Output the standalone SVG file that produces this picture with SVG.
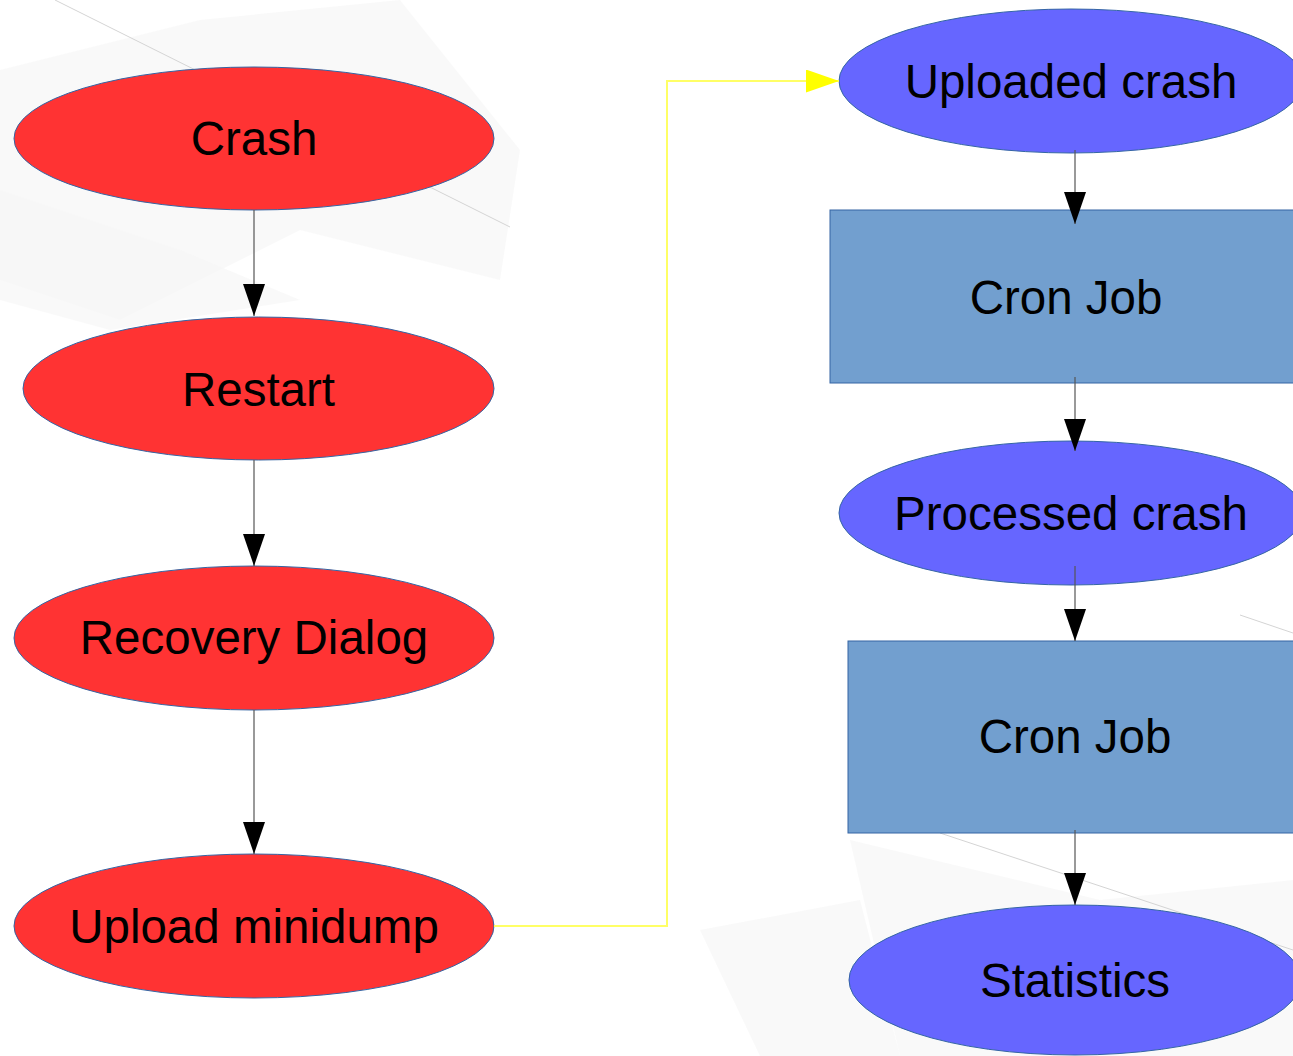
<svg xmlns="http://www.w3.org/2000/svg" width="1293" height="1056" viewBox="0 0 1293 1056">
  <style>
    .red { fill: #ff3333; stroke: #3465a4; stroke-width: 1; }
    .blue { fill: #6666ff; stroke: #3465a4; stroke-width: 1; }
    .box { fill: #729fcf; stroke: #3465a4; stroke-width: 1; }
    .lbl { font-family: "Liberation Sans", Arial, sans-serif; font-size: 47.5px; fill: #000; text-anchor: middle; }
    .edge { fill: none; stroke: #555; stroke-width: 1.2; }
    .yedge { fill: none; stroke: #ffff66; stroke-width: 2; }
    .bg { fill: #f7f7f7; opacity: 0.7; }
    .bgl { stroke: #d4d4d4; stroke-width: 1; fill: none; }
  </style>
  <defs>
    <marker id="ah" markerWidth="32" markerHeight="22" refX="32" refY="11" orient="auto" markerUnits="userSpaceOnUse">
      <path d="M0,0 L32,11 L0,22 Z" fill="#000"/>
    </marker>
    <marker id="ahy" markerWidth="33" markerHeight="23" refX="33" refY="11.5" orient="auto" markerUnits="userSpaceOnUse">
      <path d="M0,0 L33,11.5 L0,23 Z" fill="#ffff00"/>
    </marker>
  </defs>
  <rect width="1293" height="1056" fill="#ffffff"/>
  <g id="background">
    <polygon class="bg" points="0,70 200,20 400,0 520,150 500,280 300,230 120,320 0,280"/>
    <polygon class="bg" points="0,190 180,250 300,300 110,330 0,300"/>
    <polygon class="bg" points="700,930 860,900 900,1056 760,1056"/>
    <polygon class="bg" points="850,840 1100,900 1293,880 1293,1056 900,1056"/>
    <line class="bgl" x1="55" y1="0" x2="510" y2="227"/>
    <line class="bgl" x1="940" y1="833" x2="1293" y2="950"/>
    <line class="bgl" x1="1240" y1="615" x2="1293" y2="633"/>
  </g>
  <g id="node-crash">
    <ellipse class="red" cx="254" cy="138.5" rx="240" ry="71.5"/>
    <text class="lbl" x="254" y="155">Crash</text>
  </g>
  <g id="node-restart">
    <ellipse class="red" cx="258.5" cy="388.5" rx="235.5" ry="71.5"/>
    <text class="lbl" x="258.5" y="406">Restart</text>
  </g>
  <g id="node-recovery">
    <ellipse class="red" cx="254" cy="638" rx="240" ry="72"/>
    <text class="lbl" x="254" y="654">Recovery Dialog</text>
  </g>
  <g id="node-upload">
    <ellipse class="red" cx="254" cy="926" rx="240" ry="72"/>
    <text class="lbl" x="254" y="943">Upload minidump</text>
  </g>
  <g id="node-uploaded">
    <ellipse class="blue" cx="1071" cy="81" rx="232" ry="72"/>
    <text class="lbl" x="1071" y="98">Uploaded crash</text>
  </g>
  <g id="node-cron1">
    <rect class="box" x="830" y="210" width="472" height="173"/>
    <text class="lbl" x="1066" y="314">Cron Job</text>
  </g>
  <g id="node-processed">
    <ellipse class="blue" cx="1071" cy="513" rx="232" ry="72"/>
    <text class="lbl" x="1071" y="530">Processed crash</text>
  </g>
  <g id="node-cron2">
    <rect class="box" x="848" y="641" width="460" height="192"/>
    <text class="lbl" x="1075" y="753">Cron Job</text>
  </g>
  <g id="node-statistics">
    <ellipse class="blue" cx="1075" cy="980" rx="226" ry="75"/>
    <text class="lbl" x="1075" y="997">Statistics</text>
  </g>
  <g id="connectors">
    <line class="edge" x1="254" y1="210" x2="254" y2="316" marker-end="url(#ah)"/>
    <line class="edge" x1="254" y1="460" x2="254" y2="566" marker-end="url(#ah)"/>
    <line class="edge" x1="254" y1="710" x2="254" y2="854" marker-end="url(#ah)"/>
    <polyline class="yedge" points="494,926 667,926 667,81 839,81" marker-end="url(#ahy)"/>
    <line class="edge" x1="1075" y1="150" x2="1075" y2="224" marker-end="url(#ah)"/>
    <line class="edge" x1="1075" y1="377" x2="1075" y2="451" marker-end="url(#ah)"/>
    <line class="edge" x1="1075" y1="566" x2="1075" y2="641" marker-end="url(#ah)"/>
    <line class="edge" x1="1075" y1="830" x2="1075" y2="905" marker-end="url(#ah)"/>
  </g>
</svg>
